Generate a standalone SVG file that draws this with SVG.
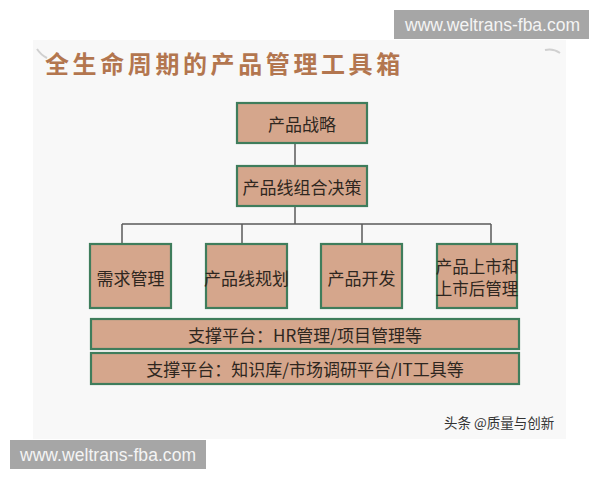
<svg xmlns="http://www.w3.org/2000/svg" width="600" height="480" viewBox="0 0 600 480">
<style>
.box{fill:#d5a68c;stroke:#3f7d5c;stroke-width:2.2}
.t{font-family:"Noto Sans CJK SC","Noto Sans",sans-serif;font-size:17px;fill:#2e2620;text-anchor:middle;dominant-baseline:central}
.wm{fill:#a6a6a6}
.wmt{font-family:"Liberation Sans",Arial,sans-serif;font-size:17.5px;fill:#f4f4f4}
.ln{stroke:#5a5a5a;stroke-width:1.5;fill:none}
</style>
<rect width="600" height="480" fill="#ffffff"/>
<rect x="33" y="40" width="533" height="399" fill="#f8f8f8"/>
<path d="M37 49 Q41 55 47 58" stroke="#d0d0d0" stroke-width="2" fill="none"/>
<path d="M545 50 Q553 48 560 53" stroke="#d0d0d0" stroke-width="2" fill="none"/>
<text x="45" y="73" font-family="'Noto Sans CJK SC',sans-serif" font-weight="bold" font-size="24" letter-spacing="3.6" fill="#b3764f">全生命周期的产品管理工具箱</text>
<g id="connectors">
<path class="ln" d="M295 143V166M295 206V224M122 224H491M122 224V244M242 224V244M362 224V244M491 224V244"/>
</g>
<g id="n1"><rect class="box" x="237" y="103" width="130" height="40"/><text class="t" x="302" y="123">产品战略</text></g>
<g id="n2"><rect class="box" x="237" y="166" width="130" height="40"/><text class="t" x="302" y="186">产品线组合决策</text></g>
<g id="n3"><rect class="box" x="90" y="244" width="81" height="64"/><text class="t" x="130.5" y="277">需求管理</text></g>
<g id="n4"><rect class="box" x="206" y="244" width="81" height="64"/><text class="t" x="246.5" y="277">产品线规划</text></g>
<g id="n5"><rect class="box" x="321" y="244" width="81" height="64"/><text class="t" x="361.5" y="277">产品开发</text></g>
<g id="n6"><rect class="box" x="437" y="244" width="80" height="64"/><text class="t" style="font-size:16.5px" x="477" y="266"><tspan x="477" y="266">产品上市和</tspan><tspan x="477" y="287.5">上市后管理</tspan></text></g>
<g id="n7"><rect class="box" x="91" y="319" width="428" height="30"/><text class="t" x="305" y="334.5">支撑平台：HR管理/项目管理等</text></g>
<g id="n8"><rect class="box" x="91" y="353" width="428" height="31"/><text class="t" x="305" y="368.5">支撑平台：知识库/市场调研平台/IT工具等</text></g>
<text x="444" y="428" font-family="'Noto Sans CJK SC',sans-serif" font-size="13.5" fill="#333333">头条 @质量与创新</text>
<rect class="wm" x="394" y="10" width="195" height="29"/>
<text class="wmt" x="405" y="31" textLength="175">www.weltrans-fba.com</text>
<rect class="wm" x="10" y="440" width="196" height="29"/>
<text class="wmt" x="20" y="461" textLength="176">www.weltrans-fba.com</text>
</svg>
